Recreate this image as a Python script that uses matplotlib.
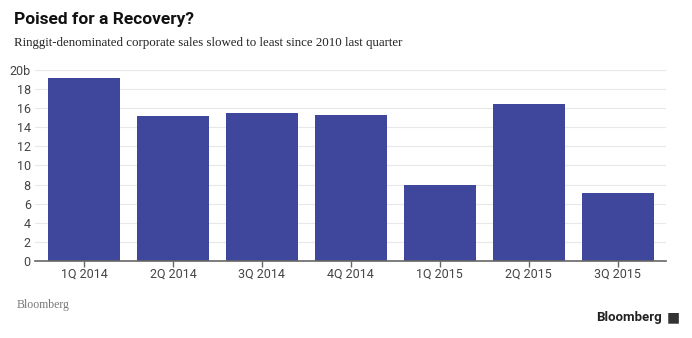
import matplotlib.pyplot as plt

# Daten
quarters = ["1Q 2014", "2Q 2014", "3Q 2014", "4Q 2014", "1Q 2015", "2Q 2015", "3Q 2015"]
sales_bn = [19.2, 15.2, 15.5, 15.3, 7.95, 16.4, 7.1]
y_ticks = [0, 2, 4, 6, 8, 10, 12, 14, 16, 18, 20]
y_labels = ["0", "2", "4", "6", "8", "10", "12", "14", "16", "18", "20b"]

BAR_COLOR = "#3e479b"

fig = plt.figure(figsize=(6.92, 3.38), dpi=100)
ax = fig.add_axes([0.0506, 0.228, 0.9114, 0.565])

x = range(len(quarters))
ax.bar(x, sales_bn, width=0.81, color=BAR_COLOR, zorder=3)

ax.set_xlim(-0.55, len(quarters) - 1 + 0.54)
ax.set_ylim(0, 20)
ax.set_yticks(y_ticks)
ax.set_yticklabels(y_labels, family="Roboto")
ax.set_xticks(list(x))
ax.set_xticklabels(quarters, family="Roboto")

ax.grid(axis="y", color="#e8e8e8", linewidth=0.8, zorder=0)
for s in ["top", "right", "left"]:
    ax.spines[s].set_visible(False)
ax.spines["bottom"].set_color("#666666")
ax.spines["bottom"].set_linewidth(1.2)
ax.spines["bottom"].set_zorder(4)

ax.tick_params(axis="y", length=0, pad=3, labelsize=9, labelcolor="#444444")
ax.tick_params(axis="x", length=4, width=1, color="#666666", pad=1,
               labelsize=9, labelcolor="#444444")

fig.text(0.02, 0.943, "Poised for a Recovery?", fontsize=12.5, fontweight="bold",
         family="Roboto", color="#111111", va="center", ha="left")
fig.text(0.02, 0.872, "Ringgit-denominated corporate sales slowed to least since 2010 last quarter",
         fontsize=9.3, family="Liberation Serif", color="#222222", va="center", ha="left")
fig.text(0.024, 0.098, "Bloomberg", fontsize=8.5, family="Liberation Serif",
         color="#777777", va="center", ha="left")
fig.text(0.957, 0.06, "Bloomberg", fontsize=9.5, fontweight="bold", family="Roboto",
         color="#222222", va="center", ha="right")
fig.text(0.983, 0.06, "\u25a0", fontsize=10, color="#333333", va="center", ha="right")

fig.savefig("out.png", dpi=100)
